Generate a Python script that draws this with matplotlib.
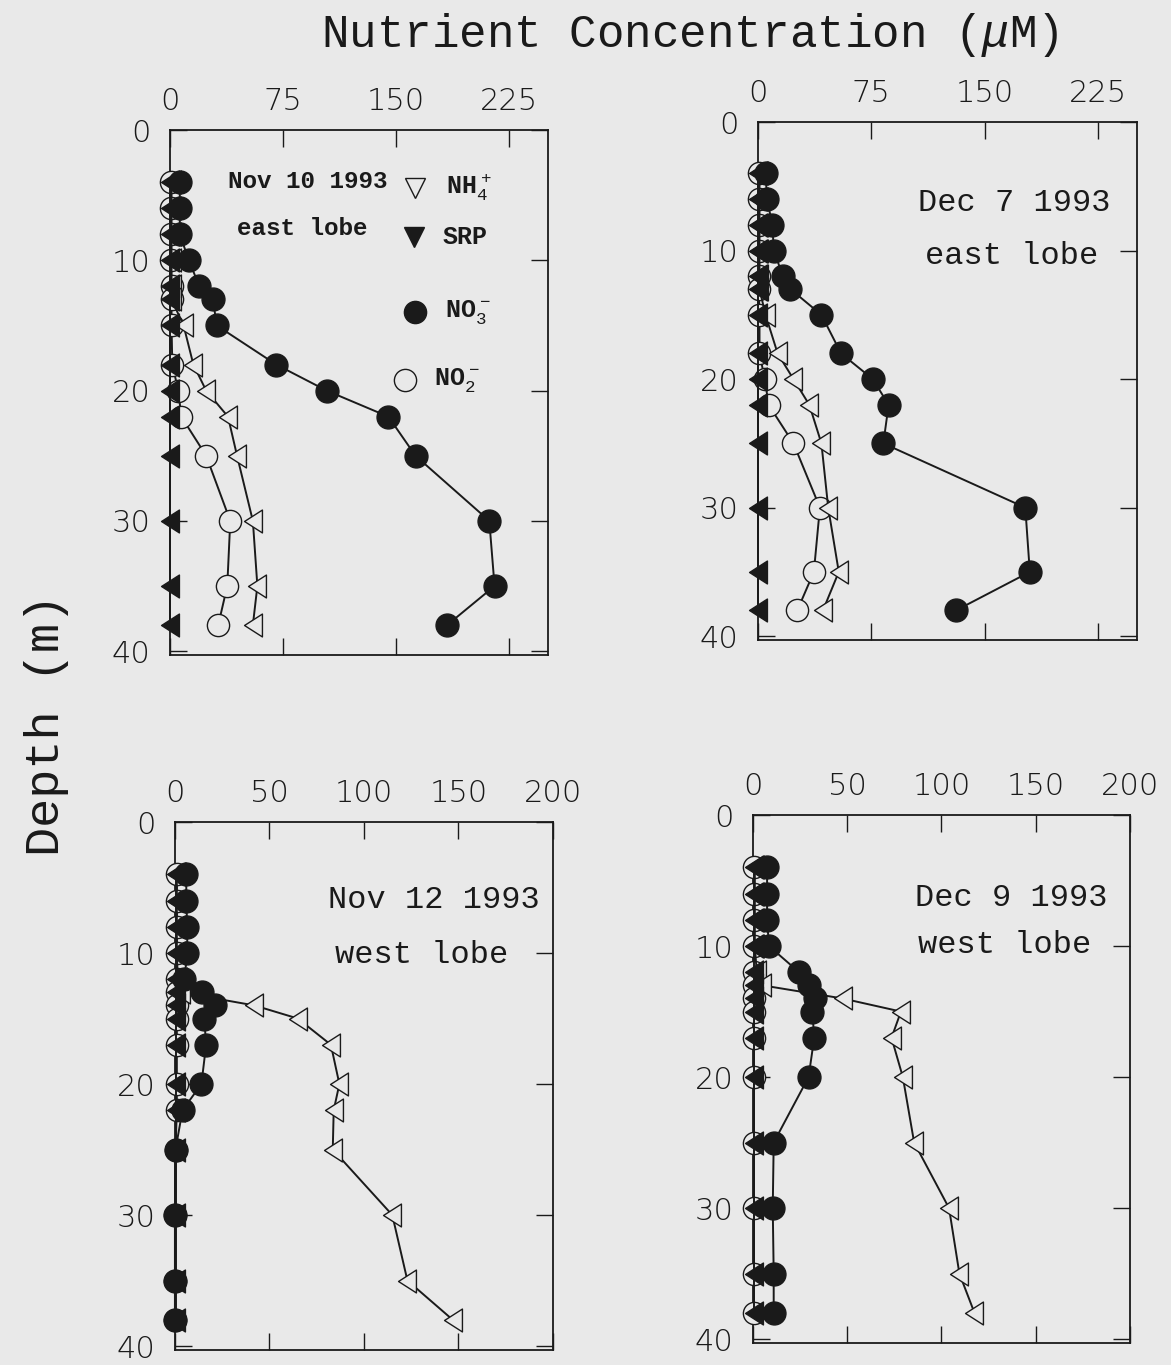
import matplotlib
matplotlib.use("Agg")
import matplotlib.pyplot as plt
from matplotlib.path import Path

plt.rcParams['mathtext.fontset'] = 'custom'
plt.rcParams['mathtext.rm'] = 'Liberation Mono'
plt.rcParams['mathtext.it'] = 'Liberation Mono:italic'
plt.rcParams['mathtext.bf'] = 'Liberation Mono:bold'

BG = '#e9e9e9'
INK = '#1a1a1a'

# ---------------- data ----------------
# Panel A: Nov 10 1993, east lobe
depth_a = [4, 6, 8, 10, 12, 13, 15, 18, 20, 22, 25, 30, 35, 38]
no3_a = [6.5, 6.5, 6.5, 12.5, 19.5, 28.5, 31, 70.5, 104, 145, 163, 212, 215.5, 184]
nh4_a = [1, 1, 1, 1, 1, 1, 9, 15.5, 24, 38.5, 44.5, 55, 58, 55]
no2_a = [0.5, 0.5, 0.5, 0.5, 1, 1, 1, 1.5, 5.5, 7.5, 24, 40, 38, 32]
srp_a = [0.3, 0.3, 0.3, 0.3, 0.3, 0.3, 0.3, 0.3, 0.3, 0.3, 0.3, 0.3, 0.3, 0.3]

# Panel B: Dec 7 1993, east lobe
depth_b = [4, 6, 8, 10, 12, 13, 15, 18, 20, 22, 25, 30, 35, 38]
no3_b = [5, 6, 9.5, 10.5, 16.5, 21.5, 42, 55, 76, 86.5, 83, 177, 180, 131]
nh4_b = [1, 1, 1, 1, 1, 1, 5, 13, 23.5, 34, 42, 46.5, 53.5, 43]
no2_b = [0.5, 0.5, 0.5, 0.5, 0.5, 0.5, 1, 1, 4.5, 7, 23.5, 41, 37, 26]
srp_b = [0.3, 0.3, 0.3, 0.3, 0.3, 0.3, 0.3, 0.3, 0.3, 0.3, 0.3, 0.3, 0.3, 0.3]

# Panel C: Nov 12 1993, west lobe
depth_c = [4, 6, 8, 10, 12, 13, 14, 15, 17, 20, 22, 25, 30, 35, 38]
no3_c = [6, 6, 6.5, 6.5, 5, 14.5, 21, 15.5, 16.5, 14, 4, 0.3, 0, 0, 0]
nh4_c = [1, 1, 1, 1, 1.5, 3, 42, 65, 82.5, 87, 84, 83.5, 115, 123, 147]
no2_c = [1, 1, 1, 1, 1, 1, 1, 1, 1, 1, 1, 0.3, 0, 0, 0]
srp_c = [0.3, 0.3, 0.3, 0.3, 0.3, 0.3, 0.3, 0.3, 0.3, 0.3, 0.3, 0.3, 0.3, 0.3, 0.3]

# Panel D: Dec 9 1993, west lobe
depth_d = [4, 6, 8, 10, 12, 13, 14, 15, 17, 20, 25, 30, 35, 38]
no3_d = [7.5, 7.5, 7.5, 8.5, 24.5, 29.5, 33, 31.5, 32.5, 29.5, 11, 10.5, 11, 11]
nh4_d = [1, 1, 1, 1, 2, 5, 47.5, 78.5, 73.5, 79.5, 85.5, 104, 109.5, 117.5]
no2_d = [0.5, 0.5, 0.5, 0.5, 0.5, 0.5, 0.5, 0.5, 0.5, 0.5, 0.5, 0.5, 0.5, 0.5]
srp_d = [0.3, 0.3, 0.3, 0.3, 0.3, 0.3, 0.3, 0.3, 0.3, 0.3, 0.3, 0.3, 0.3, 0.3]

xticks_east = [0, 75, 150, 225]
xticks_west = [0, 50, 100, 150, 200]
yticks = [0, 10, 20, 30, 40]

# tall left-pointing triangle marker
LTRI = Path([(-0.78, 0.0), (0.78, 1.0), (0.78, -1.0), (-0.78, 0.0)],
            [Path.MOVETO, Path.LINETO, Path.LINETO, Path.CLOSEPOLY])

fig = plt.figure(figsize=(11.71, 13.65), dpi=100, facecolor=BG)

MONO = 'Liberation Mono'
TICKFONT = dict(family='DejaVu Sans', size=22, weight=200)


def panel(rect, depth, no3, nh4, no2, srp, xmax, xticks):
    ax = fig.add_axes(rect, facecolor=BG)
    lw = 1.4
    ax.plot(no2, depth, '-', color=INK, lw=lw, marker='o', ms=16,
            mfc=BG, mec=INK, mew=1.0, clip_on=False, zorder=3)
    ax.plot(nh4, depth, '-', color=INK, lw=lw, marker=LTRI, ms=16.5,
            mfc=BG, mec=INK, mew=1.0, clip_on=False, zorder=3)
    ax.plot(srp, depth, '-', color=INK, lw=lw, marker=LTRI, ms=16.5,
            mfc=INK, mec=INK, mew=1.0, clip_on=False, zorder=4)
    ax.plot(no3, depth, '-', color=INK, lw=lw, marker='o', ms=16.5,
            mfc=INK, mec=INK, mew=1.0, clip_on=False, zorder=5)
    ax.set_xlim(0, xmax)
    ax.set_ylim(40.3, 0)
    ax.set_xticks(xticks)
    ax.set_yticks(yticks)
    ax.xaxis.tick_top()
    ax.tick_params(axis='both', which='both', direction='in', length=12,
                   width=1.0, color=INK, top=True, bottom=True, left=True,
                   right=True, labeltop=True, labelbottom=False,
                   labelleft=True, labelright=False, labelcolor=INK)
    ax.tick_params(axis='x', pad=10)
    ax.tick_params(axis='y', pad=14)
    for lab in ax.get_xticklabels() + ax.get_yticklabels():
        lab.set_fontfamily(TICKFONT['family'])
        lab.set_fontsize(TICKFONT['size'])
        lab.set_fontweight(TICKFONT['weight'])
    for s in ax.spines.values():
        s.set_color(INK)
        s.set_linewidth(1.3)
    return ax


ax1 = panel([0.1452, 0.5201, 0.3228, 0.3846], depth_a, no3_a, nh4_a, no2_a,
            srp_a, 251, xticks_east)
ax2 = panel([0.6473, 0.5311, 0.3237, 0.3795], depth_b, no3_b, nh4_b, no2_b,
            srp_b, 251, xticks_east)
ax3 = panel([0.1494, 0.0110, 0.3228, 0.3868], depth_c, no3_c, nh4_c, no2_c,
            srp_c, 200, xticks_west)
ax4 = panel([0.6430, 0.0161, 0.3220, 0.3868], depth_d, no3_d, nh4_d, no2_d,
            srp_d, 200, xticks_west)

# Panel A annotations + legend
tb = dict(family=MONO, weight='bold', color=INK, va='center', ha='left')
ax1.text(0.153, 0.902, 'Nov 10 1993', transform=ax1.transAxes, size=17.5, **tb)
ax1.text(0.178, 0.812, 'east lobe', transform=ax1.transAxes, size=17.5, **tb)
legend_items = [
    (0.648, 0.890, 'v', BG, 'NH$_{4}^{\\,+}$', 0.730),
    (0.645, 0.797, 'v', INK, 'SRP', 0.722),
    (0.648, 0.653, 'o', INK, 'NO$_{3}^{\\,-}$', 0.728),
    (0.622, 0.524, 'o', BG, 'NO$_{2}^{\\,-}$', 0.698),
]
for (mx, my, mk, fc, lab, tx) in legend_items:
    ax1.plot([mx], [my], marker=mk, ms=16 if mk == 'o' else 15, mfc=fc,
             mec=INK, mew=1.0, transform=ax1.transAxes, clip_on=False,
             zorder=6)
    ax1.text(tx, my, lab, transform=ax1.transAxes, size=18, **tb)

tn = dict(family=MONO, color=INK, va='center', ha='left', size=23)
ax2.text(0.422, 0.844, 'Dec 7 1993', transform=ax2.transAxes, **tn)
ax2.text(0.440, 0.741, 'east lobe', transform=ax2.transAxes, **tn)
ax3.text(0.405, 0.852, 'Nov 12 1993', transform=ax3.transAxes, **tn)
ax3.text(0.423, 0.748, 'west lobe', transform=ax3.transAxes, **tn)
ax4.text(0.430, 0.843, 'Dec 9 1993', transform=ax4.transAxes, **tn)
ax4.text(0.438, 0.754, 'west lobe', transform=ax4.transAxes, **tn)

fig.text(0.589, 0.974, 'Nutrient Concentration ($\\mu$M)', family=MONO,
         size=33, color=INK, ha='center', va='center')
fig.text(0.040, 0.469, 'Depth (m)', family=MONO, size=35, color=INK,
         ha='center', va='center', rotation=90)

fig.savefig('out.png', dpi=100, facecolor=BG)
